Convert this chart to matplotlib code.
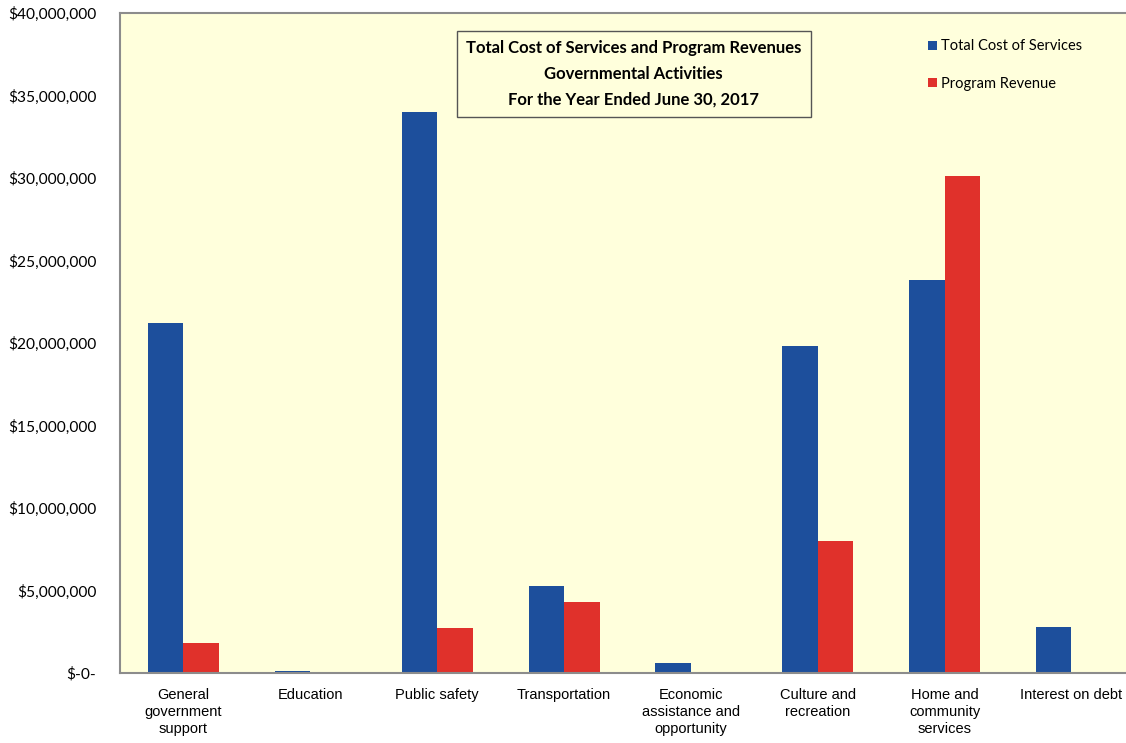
import numpy as np
import matplotlib.pyplot as plt

categories = ['General\ngovernment\nsupport', 'Education', 'Public safety', 'Transportation',
              'Economic\nassistance and\nopportunity', 'Culture and\nrecreation',
              'Home and\ncommunity\nservices', 'Interest on debt']
total_cost = [21.2e6, 0.12e6, 34.0e6, 5.3e6, 0.6e6, 19.8e6, 23.8e6, 2.8e6]
program_revenue = [1.8e6, 0.05e6, 2.7e6, 4.3e6, 0.0, 8.0e6, 30.15e6, 0.0]
yticks = np.arange(0, 40e6 + 1, 5e6)

blue = '#1D4F9C'
red = '#E0312B'

fig = plt.figure(figsize=(11.26, 7.43), dpi=100)
ax = fig.add_axes([0.1066, 0.0942, 0.8934, 0.8883])
ax.set_facecolor('#FFFFDC')

x = np.arange(len(categories))
width = 0.28
ax.bar(x - width/2, total_cost, width=width, color=blue, label='Total Cost of Services')
ax.bar(x + width/2, program_revenue, width=width, color=red, label='Program Revenue')

ax.set_xlim(-0.5, 7.43)
ax.set_ylim(0, 40e6)
ax.set_yticks(yticks)
ax.set_yticklabels(['$-0-' if v == 0 else f'${v:,.0f}' for v in yticks],
                   fontfamily='Lato', fontsize=11.2)
ax.set_xticks(x)
ax.set_xticklabels(categories, fontfamily='Liberation Sans', fontsize=10.5, linespacing=1.25)
ax.tick_params(length=0)
ax.tick_params(axis='y', pad=17)
ax.tick_params(axis='x', pad=11)

for s in ['left', 'top', 'bottom']:
    ax.spines[s].set_color('#8C8C8C')
    ax.spines[s].set_linewidth(1.5)
ax.spines['right'].set_visible(False)

ax.text(3.55, 36.3e6, 'Total Cost of Services and Program Revenues\nGovernmental Activities\nFor the Year Ended June 30, 2017',
        ha='center', va='center', fontfamily='Lato', fontweight='bold', fontsize=12,
        linespacing=1.75,
        bbox=dict(boxstyle='square,pad=0.55', facecolor='#FFFFDC', edgecolor='#555555', linewidth=1))

leg = ax.legend(loc='upper left', bbox_to_anchor=(0.79, 0.98), frameon=False,
                prop={'family': 'Lato', 'size': 10.5}, handlelength=0.6, handleheight=0.6,
                handletextpad=0.3, labelspacing=1.6)

fig.savefig('out.png', dpi=100)
